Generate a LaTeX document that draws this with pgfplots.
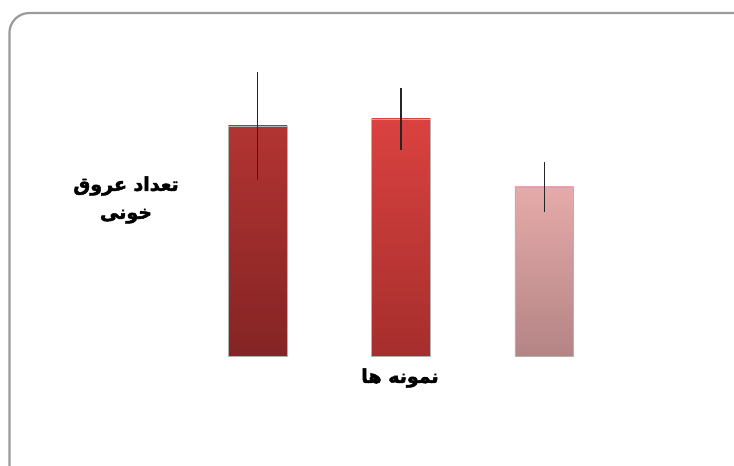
\documentclass[border=0pt]{standalone}
\usepackage{pgfplots}
\pgfplotsset{compat=1.18}
\usepackage{fontspec}
\newfontfamily\arabicfont[Script=Arabic, BoldFont={DejaVu Sans Bold}, BoldFeatures={FakeBold=2.5}]{DejaVu Sans}
\TeXXeTstate=1
\definecolor{frame}{HTML}{9A9A9A}
\begin{document}
\begin{tikzpicture}[x=1pt,y=1pt]
\clip (0,0) rectangle (367,233);
\path[use as bounding box] (0,0) rectangle (367,233);
\draw[frame, line width=1.1pt, rounded corners=10pt] (4.7,-12) rectangle (380,226.5);
\begin{axis}[
  at={(93pt,55pt)}, anchor=south west,
  scale only axis, width=215pt, height=148pt,
  xmin=-0.5, xmax=2.5, ymin=0, ymax=296,
  axis lines=none, ticks=none,
  bar width=0.41, ybar, bar shift=0pt,
  clip=false,
  error bars/error bar style={line width=0.7pt, color=black!85},
]
\addplot[draw=black!30, line width=0.3pt, top color={rgb,255:red,178;green,52;blue,50}, bottom color={rgb,255:red,132;green,36;blue,36}, shading=axis,
  error bars/.cd, y dir=both, y explicit, error mark=none]
  coordinates {(0,230) +- (0,54)};
\addplot[draw=black!30, line width=0.3pt, top color={rgb,255:red,218;green,66;blue,64}, bottom color={rgb,255:red,165;green,46;blue,44}, shading=axis,
  error bars/.cd, y dir=both, y explicit, error mark=none]
  coordinates {(1,237) +- (0,31)};
\addplot[draw=black!30, line width=0.3pt, top color={rgb,255:red,230;green,170;blue,170}, bottom color={rgb,255:red,180;green,132;blue,132}, shading=axis,
  error bars/.cd, y dir=both, y explicit, error mark=none]
  coordinates {(2,169) +- (0,25)};
\end{axis}
\node[align=center, font=\arabicfont\bfseries\fontsize{9.5}{14}\selectfont] at (63,133) {\beginR تعداد عروق\endR\\\beginR خونی\endR};
\node[font=\arabicfont\bfseries\fontsize{9.5}{12}\selectfont] at (200,44) {\beginR نمونه ها\endR};
\end{tikzpicture}
\end{document}
